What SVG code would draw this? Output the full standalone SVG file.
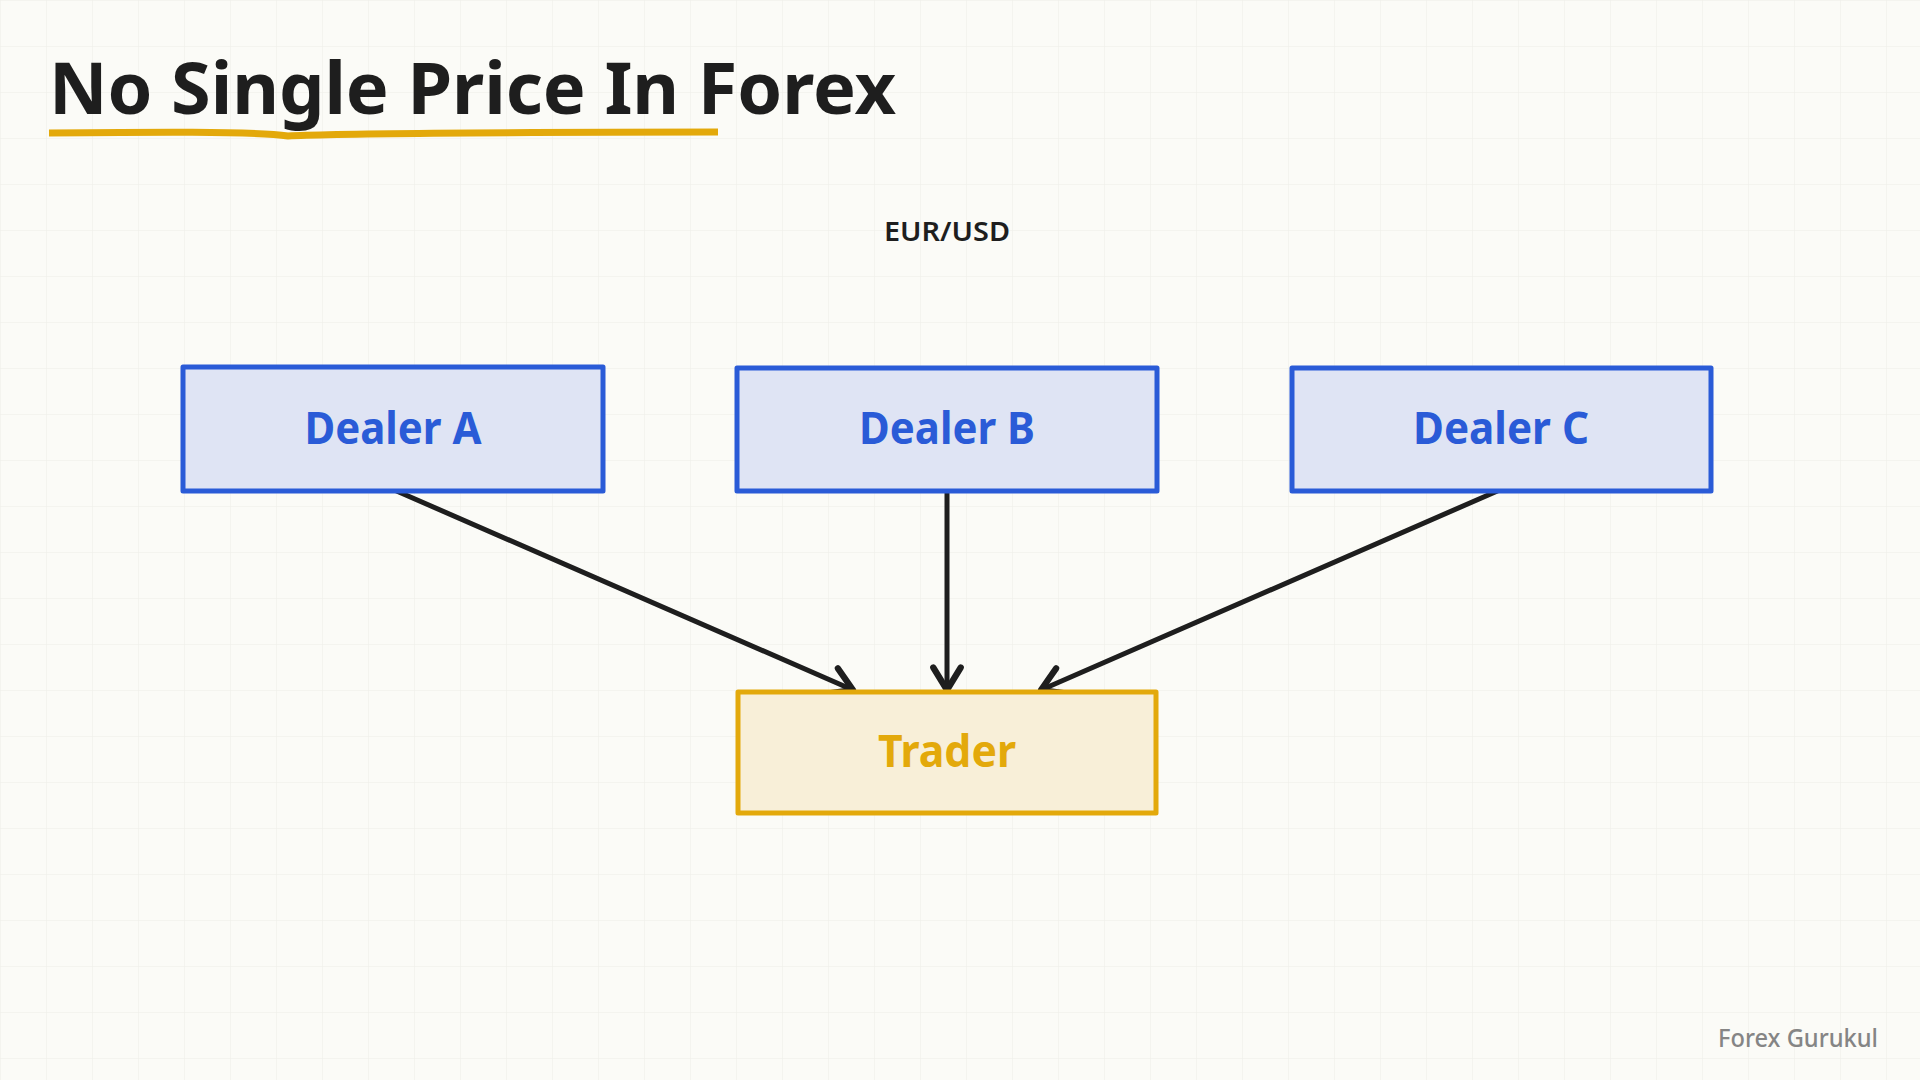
<svg xmlns="http://www.w3.org/2000/svg" width="1920" height="1080" viewBox="0 0 1920 1080">
  <style>
    .dealer rect { fill: #dfe4f4; stroke: #2a5bd7; stroke-width: 5; stroke-linejoin: round; }
    .dealer text { fill: #2a5bd7; font-family: "Noto Sans", "DejaVu Sans", sans-serif; font-weight: 700; font-size: 44px; text-anchor: middle; }
    .trader rect { fill: #f8efd8; stroke: #e3a90b; stroke-width: 5; stroke-linejoin: round; }
    .trader text { fill: #e3a90b; font-family: "Noto Sans", "DejaVu Sans", sans-serif; font-weight: 700; font-size: 44px; text-anchor: middle; }
    .conn { fill: none; stroke: #1e1e1e; stroke-width: 5; stroke-linecap: round; marker-end: url(#arrow); }
    .title { fill: #1e1e1e; font-family: "Noto Sans", "DejaVu Sans", sans-serif; font-weight: 700; font-size: 72px; }
  </style>
  <defs>
    <pattern id="grid" width="46" height="46" patternUnits="userSpaceOnUse">
      <path d="M 46 0 L 0 0 L 0 46" fill="none" stroke="#ededE7" stroke-width="1"/>
    </pattern>
    <marker id="arrow" markerUnits="userSpaceOnUse" markerWidth="40" markerHeight="40" viewBox="-24 -16 30 32" refX="0" refY="0" orient="auto">
      <path d="M -18 -11 L 0 0 L -18 11" fill="none" stroke="#1e1e1e" stroke-width="5" stroke-linecap="round" stroke-linejoin="round"/>
    </marker>
  </defs>

  <rect x="0" y="0" width="1920" height="1080" fill="#fbfbf7"/>
  <rect x="0" y="0" width="1920" height="1080" fill="url(#grid)"/>

  <g id="title">
    <text class="title" x="49" y="114" textLength="847" lengthAdjust="spacing">No Single Price In Forex</text>
    <path d="M 49 133 C 150 132, 250 131, 288 136 C 320 134, 500 132, 718 132" fill="none" stroke="#e3a90b" stroke-width="7" stroke-linecap="butt"/>
  </g>

  <g id="pair-label">
    <text x="947" y="241" text-anchor="middle" font-family="Noto Sans, DejaVu Sans, sans-serif" font-weight="600" font-size="27" fill="#1e1e1e" textLength="126" lengthAdjust="spacingAndGlyphs">EUR/USD</text>
  </g>

  <g id="connectors">
    <line class="conn" x1="392" y1="489" x2="853" y2="690"/>
    <line class="conn" x1="947" y1="489" x2="947" y2="690"/>
    <line class="conn" x1="1502" y1="489" x2="1041" y2="690"/>
  </g>

  <g id="dealer-a" class="dealer">
    <rect x="183" y="367" width="420" height="124"/>
    <text x="393" y="444" textLength="177" lengthAdjust="spacingAndGlyphs">Dealer A</text>
  </g>
  <g id="dealer-b" class="dealer">
    <rect x="737" y="368" width="420" height="123"/>
    <text x="947" y="444" textLength="176" lengthAdjust="spacingAndGlyphs">Dealer B</text>
  </g>
  <g id="dealer-c" class="dealer">
    <rect x="1292" y="368" width="419" height="123"/>
    <text x="1501" y="444" textLength="176" lengthAdjust="spacingAndGlyphs">Dealer C</text>
  </g>

  <g id="trader" class="trader">
    <rect x="738" y="692" width="418" height="121"/>
    <text x="947" y="767" textLength="138" lengthAdjust="spacingAndGlyphs">Trader</text>
  </g>

  <g id="watermark">
    <text x="1878" y="1047" text-anchor="end" font-family="Noto Sans, DejaVu Sans, sans-serif" font-weight="500" font-size="26" fill="#858585" textLength="160" lengthAdjust="spacingAndGlyphs">Forex Gurukul</text>
  </g>
</svg>
